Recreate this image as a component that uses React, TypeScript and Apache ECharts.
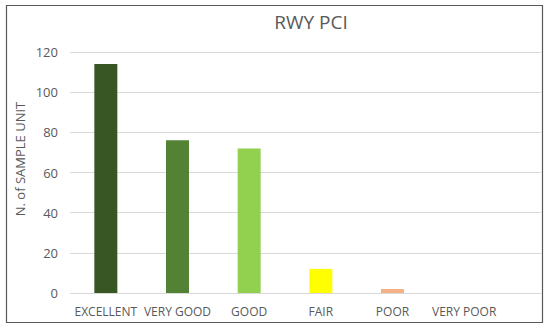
import React, { useEffect, useRef } from "react";
import * as echarts from "echarts";

const categories = ["EXCELLENT", "VERY GOOD", "GOOD", "FAIR", "POOR", "VERY POOR"];
const values = [114, 76, 72, 12, 2, 0];
const barColors = ["#375623", "#548235", "#92D050", "#FFFF00", "#F4B183", "#A9A9A9"];
const yTicks = { min: 0, max: 120, interval: 20 };
const title = "RWY PCI";
const yName = "N. of SAMPLE UNIT";

export default function App() {
  const ref = useRef<HTMLDivElement>(null);
  useEffect(() => {
    if (!ref.current) return;
    const chart = echarts.init(ref.current, undefined, { renderer: "svg" });
    const font = "'Open Sans', 'Liberation Sans', sans-serif";
    chart.setOption({
      animation: false,
      backgroundColor: "#ffffff",
      title: {
        text: title,
        left: 306,
        top: 7,
        textAlign: "center",
        textStyle: { color: "#595959", fontSize: 19, fontWeight: "normal", fontFamily: font },
      },
      graphic: [
        {
          type: "rect",
          shape: { x: 6.5, y: 5.5, width: 536, height: 317 },
          style: { fill: "none", stroke: "#595959", lineWidth: 1.2 },
          silent: true,
        },
        {
          type: "text",
          x: 20,
          y: 159,
          rotation: Math.PI / 2,
          style: {
            text: yName,
            fill: "#595959",
            fontSize: 13,
            fontFamily: font,
            align: "center",
            verticalAlign: "middle",
          },
          silent: true,
        },
      ],
      grid: [
        { left: 70, right: 9, top: 52, bottom: 36 },
        { left: 70, width: 430, top: 52, bottom: 36 },
      ],
      xAxis: [
        { type: "value", gridIndex: 0, show: false },
        {
          type: "category",
          gridIndex: 1,
          data: categories,
          axisLine: { show: false },
          axisTick: { show: false },
          axisLabel: { color: "#595959", fontSize: 12, fontFamily: font, margin: 12, interval: 0 },
        },
      ],
      yAxis: [
        {
          type: "value",
          gridIndex: 0,
          min: yTicks.min,
          max: yTicks.max,
          interval: yTicks.interval,
          axisLine: { show: false },
          axisTick: { show: false },
          axisLabel: { color: "#595959", fontSize: 13, fontFamily: font, margin: 12 },
          splitLine: { lineStyle: { color: "#d9d9d9", width: 1 } },
        },
        {
          type: "value",
          gridIndex: 1,
          min: yTicks.min,
          max: yTicks.max,
          interval: yTicks.interval,
          show: false,
        },
      ],
      series: [
        {
          type: "bar",
          xAxisIndex: 1,
          yAxisIndex: 1,
          barWidth: 23,
          data: values.map((v, i) => ({ value: v, itemStyle: { color: barColors[i] } })),
        },
      ],
    });
    return () => chart.dispose();
  }, []);
  return (
    <div
      ref={ref}
      style={{ position: "fixed", left: 0, top: 0, width: 550, height: 329 }}
    />
  );
}
